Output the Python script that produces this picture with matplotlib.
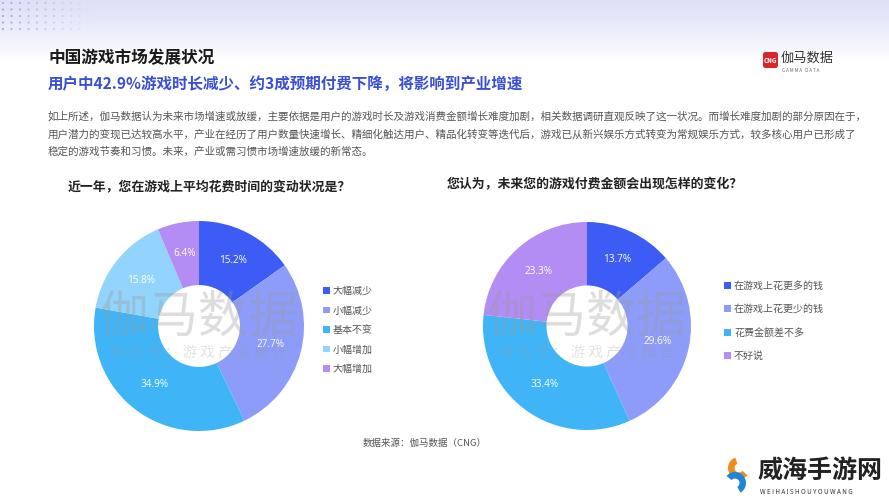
import numpy as np
import matplotlib
matplotlib.use('Agg')
import matplotlib.pyplot as plt
from matplotlib.patches import Wedge, FancyBboxPatch

plt.rcParams['font.family'] = ['Noto Sans CJK SC', 'DejaVu Sans']

# 数据
left_title = '近一年，您在游戏上平均花费时间的变动状况是？'
left_labels = ['大幅减少', '小幅减少', '基本不变', '小幅增加', '大幅增加']
left_values = [15.2, 27.7, 34.9, 15.8, 6.4]

right_title = '您认为，未来您的游戏付费金额会出现怎样的变化？'
right_labels = ['在游戏上花更多的钱', '在游戏上花更少的钱', '花费金额差不多', '不好说']
right_values = [13.7, 29.6, 33.4, 23.3]

left_colors = ['#3d5cf5', '#8c9cf8', '#3fb5f8', '#93d4fc', '#b38cf4']
right_colors = ['#3d5cf5', '#8c9cf8', '#3fb5f8', '#b38cf4']

page_title = '中国游戏市场发展状况'
sub_title = '用户中42.9%游戏时长减少、约3成预期付费下降，将影响到产业增速'
paragraph = [
    '如上所述，伽马数据认为未来市场增速或放缓，主要依据是用户的游戏时长及游戏消费金额增长难度加剧，相关数据调研直观反映了这一状况。而增长难度加剧的部分原因在于，',
    '用户潜力的变现已达较高水平，产业在经历了用户数量快速增长、精细化触达用户、精品化转变等迭代后，游戏已从新兴娱乐方式转变为常规娱乐方式，较多核心用户已形成了',
    '稳定的游戏节奏和习惯。未来，产业或需习惯市场增速放缓的新常态。',
]
source = '数据来源：伽马数据（CNG）'

W, H = 889, 500
fig = plt.figure(figsize=(W / 100, H / 100), dpi=100)


def px(x, y):
    return x / W, 1 - y / H


# 背景：顶部渐变 + 点阵
bg = fig.add_axes([0, 0, 1, 1])
bg.set_xlim(0, W)
bg.set_ylim(H, 0)
bg.axis('off')
grad = np.ones((H, 1, 3))
top = np.array([0.87, 0.885, 0.97])
for i in range(60):
    t = (i / 60) ** 1.3
    grad[i, 0] = top * (1 - t) + np.array([1, 1, 1]) * t
bg.imshow(grad, extent=[0, W, H, 0], aspect='auto', zorder=0)
gx, gy = np.meshgrid(np.arange(3, 90, 8.5), np.arange(3, 31, 6.5))
alphas = np.clip(1 - gx / 95, 0.05, 1) * 0.6
bg.scatter(gx.ravel(), gy.ravel(), s=2.5, color='#7d84d6', alpha=alphas.ravel(), lw=0, zorder=1)

# 标题
fig.text(*px(48, 58), page_title, fontsize=12, fontweight='bold', color='#1a1a1a', va='center')
fig.text(*px(48, 84), sub_title, fontsize=11.2, fontweight='bold', color='#3a4fd6', va='center')
for i, line in enumerate(paragraph):
    fig.text(*px(48, 117 + i * 17.5), line, fontsize=7.6, color='#555555', va='center')

# 伽马数据 logo
bg.add_patch(FancyBboxPatch((763, 52), 15, 16, boxstyle='round,pad=0,rounding_size=2.5',
                            fc='#d8262c', ec='none', zorder=2))
bg.text(770.5, 60.5, 'CNG', fontsize=4.5, color='white', fontweight='bold', ha='center', va='center', zorder=3)
bg.text(781, 58, '伽马数据', fontsize=9.5, color='#333333', va='center')
bg.text(782, 70, 'G A M M A   D A T A', fontsize=3.2, color='#666666', va='center')


def donut(cx, cy, r, values, colors, labels, title, tx, ty, lx, ly, spacing):
    ax = fig.add_axes([(cx - r) / W, 1 - (cy + r) / H, 2 * r / W, 2 * r / H])
    wedges, _, autotexts = ax.pie(values, colors=colors, startangle=90, counterclock=False,
                                  autopct=lambda p: f'{p:.1f}%', pctdistance=0.7,
                                  wedgeprops=dict(width=0.61, edgecolor='none'),
                                  textprops=dict(color='white', fontsize=7.2))
    ax.set_xlim(-1, 1)
    ax.set_ylim(-1, 1)
    ax.set_aspect('equal')
    for t in autotexts:
        t.set_family(['Open Sans', 'DejaVu Sans'])
    fig.text(*px(tx, ty), title, fontsize=9.3, fontweight='bold', color='#222222', va='center')
    fig.legend(wedges, labels, loc='center left', bbox_to_anchor=px(lx, ly), frameon=False,
               fontsize=7.2, labelcolor='#555555', handlelength=0.65, handleheight=0.65,
               handletextpad=0.35, labelspacing=spacing, borderpad=0, borderaxespad=0)
    # 水印
    fig.text(*px(cx, cy - 8), '伽马数据', fontsize=36, color='#9a9a9a', alpha=0.33,
             ha='center', va='center', zorder=10)
    fig.text(*px(cx, cy + 27), '微 信 号 ： 游 戏 产 业 报 告', fontsize=10.5, color='#9a9a9a',
             alpha=0.28, ha='center', va='center', zorder=10)


donut(199, 326, 105, left_values, left_colors, left_labels, left_title, 68, 187, 323, 330, 0.95)
donut(587, 326, 104, right_values, right_colors, right_labels, right_title, 447, 184, 724, 321, 1.35)

fig.text(*px(363, 443), source, fontsize=6.8, color='#555555', va='center')

# 右下角水印 logo
bg.add_patch(Wedge((739, 468), 11, 40, 250, width=6.5, fc='#f08a1c', ec='none', zorder=3))
bg.add_patch(Wedge((735, 483), 11, 220, 60, width=6.5, fc='#1f86d6', ec='none', zorder=3))
bg.text(758, 471, '威海手游网', fontsize=18, fontweight='bold', color='#222222', va='center')
bg.text(760, 492, 'W E I H A I S H O U Y O U W A N G', fontsize=4.6, color='#333333', va='center')

fig.savefig('out.png', dpi=100)
